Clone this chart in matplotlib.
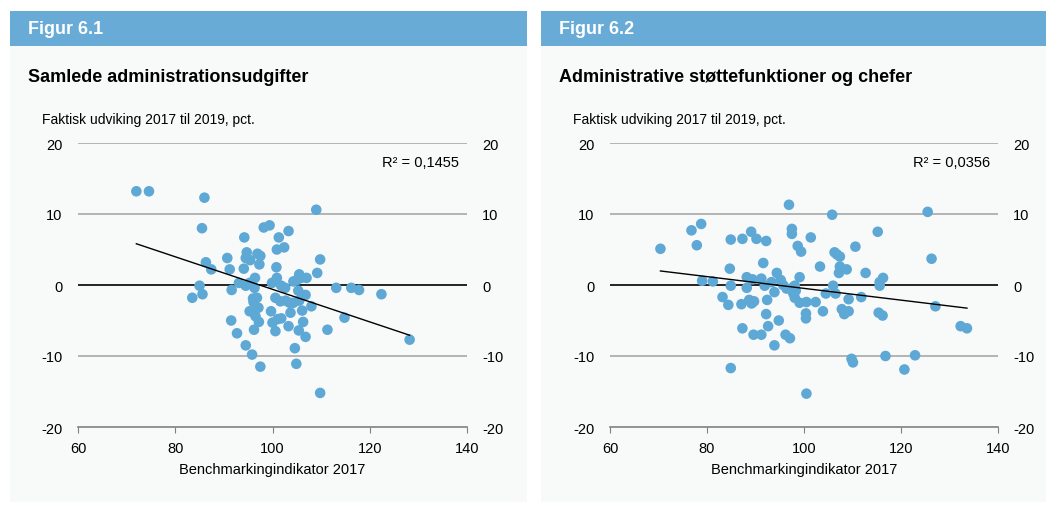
import numpy as np
import matplotlib
matplotlib.use("Agg")
import matplotlib.pyplot as plt
from matplotlib.patches import Rectangle

plt.rcParams['font.family'] = ['Liberation Sans', 'DejaVu Sans']

# Figur 6.1 - Samlede administrationsudgifter
x_total = [72.0, 74.6, 86.0, 85.5, 98.2, 99.4, 94.2, 103.3, 101.3, 100.9, 102.4, 109.0,
           94.7, 94.5, 95.4, 96.9, 97.5, 97.3, 90.7, 94.1, 91.2, 86.3, 87.4, 100.8,
           109.8, 109.2, 96.4, 93.1, 94.5, 95.3, 96.3, 85.0, 85.6, 83.5, 91.6, 99.9,
           100.9, 101.8, 102.6, 104.3, 105.5, 105.9, 107.0, 105.0, 105.3, 106.8, 106.1,
           113.1, 96.0, 96.8, 96.1, 100.6, 101.6, 102.7, 103.5, 104.3, 108.0, 97.1,
           95.3, 99.7, 106.1, 103.7, 96.5, 97.2, 91.5, 100.0, 101.1, 101.8, 106.3,
           103.3, 111.3, 96.2, 92.7, 100.6, 105.4, 106.8, 94.5, 95.8, 104.6, 97.5,
           104.9, 109.8, 114.8, 116.2, 117.8, 122.4, 128.2, 105.5]
y_total = [13.2, 13.2, 12.3, 8.0, 8.1, 8.4, 6.7, 7.6, 6.7, 5.0, 5.3, 10.6,
           4.6, 3.8, 3.5, 4.4, 4.1, 2.9, 3.8, 2.3, 2.2, 3.2, 2.2, 2.5,
           3.6, 1.7, 1.0, 0.3, -0.1, 0.3, -0.4, -0.1, -1.3, -1.8, -0.7, 0.3,
           1.0, -0.1, -0.4, 0.5, 1.5, 1.0, 1.0, 0.7, -0.8, -1.4, -1.5,
           -0.4, -1.9, -1.8, -2.4, -1.8, -2.3, -2.2, -2.5, -2.5, -3.0, -3.2,
           -3.7, -3.7, -3.6, -3.9, -4.4, -5.2, -5.0, -5.3, -4.8, -4.7, -5.2,
           -5.8, -6.3, -6.3, -6.8, -6.5, -6.4, -7.3, -8.5, -9.8, -8.9, -11.5,
           -11.1, -15.2, -4.6, -0.4, -0.7, -1.3, -7.7, -2.2]

# Figur 6.2 - Administrative støttefunktioner og chefer
x_support = [96.9, 76.8, 78.8, 70.4, 77.9, 84.9, 87.3, 89.1, 90.2, 92.2, 97.5, 97.5,
             101.4, 98.7, 99.4, 91.6, 84.7, 103.3, 79.0, 81.2, 88.2, 89.4, 91.2, 94.4,
             95.2, 99.1, 98.1, 84.9, 88.2, 105.8, 125.5, 115.2, 110.6, 126.3, 106.3,
             106.8, 107.4, 107.4, 108.8, 107.2, 112.7, 116.3, 115.6, 106.0, 115.6,
             83.2, 84.4, 87.1, 88.7, 89.2, 89.7, 92.4, 93.9, 92.2, 94.8, 92.6, 87.3,
             89.6, 91.2, 96.2, 97.1, 93.9, 84.9, 100.5, 95.7, 96.4, 97.8, 98.1, 99.1,
             100.5, 102.4, 100.4, 100.4, 104.5, 106.5, 109.2, 111.8, 103.9, 107.8,
             108.3, 109.2, 115.4, 116.2, 127.1, 132.3, 133.6, 109.8, 110.1, 116.8,
             122.9, 120.7, 91.9, 93.3, 97.8, 98.3]
y_support = [11.3, 7.7, 8.6, 5.1, 5.6, 6.4, 6.5, 7.5, 6.5, 6.2, 7.9, 7.2,
             6.7, 5.5, 4.7, 3.1, 2.3, 2.6, 0.6, 0.5, 1.1, 0.8, 0.9, 1.7,
             0.7, 1.1, -0.1, -0.1, -0.4, 9.9, 10.3, 7.5, 5.4, 3.7, 4.6,
             4.3, 4.0, 2.6, 2.2, 1.7, 1.7, 1.0, 0.4, -0.1, -0.1,
             -1.7, -2.8, -2.7, -2.1, -2.6, -2.3, -2.1, -1.0, -4.1, -5.0, -5.8, -6.1,
             -7.0, -7.0, -7.0, -7.5, -8.5, -11.7, -15.3, 0.0, -0.5, -1.2, -1.8, -2.5,
             -2.4, -2.4, -4.0, -4.7, -1.2, -1.2, -2.0, -1.7, -3.7, -3.4,
             -4.1, -3.7, -3.9, -4.3, -3.0, -5.8, -6.1, -10.4, -10.9, -10.0,
             -9.9, -11.9, -0.1, 0.4, -0.3, -0.8]

fig_labels = ['Figur 6.1', 'Figur 6.2']
titles = ['Samlede administrationsudgifter', 'Administrative støttefunktioner og chefer']
r2_labels = ['R² = 0,1455', 'R² = 0,0356']
subtitle = 'Faktisk udviking 2017 til 2019, pct.'
xlabel = 'Benchmarkingindikator 2017'
xticks = [60, 80, 100, 120, 140]
yticks = [-20, -10, 0, 10, 20]

W, H = 1053, 506
dot_col = '#5ea8d6'
head_col = '#67abd6'
bg_col = '#f8f9f9'

fig = plt.figure(figsize=(W / 100, H / 100), dpi=100)
fig.patch.set_facecolor('white')

panels = [(10, 527), (541, 1046)]
axes_px = [(78, 467), (610, 998)]
data = [(x_total, y_total), (x_support, y_support)]

for i in range(2):
    p0, p1 = panels[i]
    # panel background and header bar
    fig.patches.append(Rectangle((p0 / W, 0.005), (p1 - p0) / W, (H - 47) / H - 0.005,
                                 transform=fig.transFigure, facecolor=bg_col, edgecolor='none', zorder=-10))
    fig.patches.append(Rectangle((p0 / W, (H - 47) / H), (p1 - p0) / W, 35 / H,
                                 transform=fig.transFigure, facecolor=head_col, edgecolor='none', zorder=-10))
    fig.text((p0 + 18) / W, (H - 30) / H, fig_labels[i], color='white', fontsize=13,
             fontweight='bold', va='center', ha='left')
    fig.text((p0 + 18) / W, (H - 78) / H, titles[i], color='black', fontsize=13,
             fontweight='bold', va='center', ha='left')
    fig.text((p0 + 32) / W, (H - 120) / H, subtitle, color='black', fontsize=10,
             va='center', ha='left')

    a0, a1 = axes_px[i]
    ax = fig.add_axes([a0 / W, (H - 428) / H, (a1 - a0) / W, (428 - 144) / H])
    ax.set_facecolor('none')
    xs, ys = data[i]
    ax.set_xlim(60, 140)
    ax.set_ylim(-20, 20)
    for yv in [20, 10, -10]:
        ax.axhline(yv, color='#a8a8a8', lw=1.2, zorder=1)
    ax.axhline(0, color='black', lw=1.2, zorder=1)

    ax.scatter(xs, ys, s=58, color=dot_col, edgecolors='none', zorder=3)

    # linear trend line
    k, m = np.polyfit(xs, ys, 1)
    lx = np.array([min(xs), max(xs)])
    ax.plot(lx, k * lx + m, color='black', lw=1.0, zorder=4)

    ax.text(0.979, 0.933, r2_labels[i], transform=ax.transAxes, ha='right', va='center',
            fontsize=10.5)

    for s in ['top', 'left', 'right']:
        ax.spines[s].set_visible(False)
    ax.spines['bottom'].set_color('#808080')
    ax.spines['bottom'].set_linewidth(1.2)
    ax.set_xticks(xticks)
    ax.set_yticks(yticks)
    ax.set_xticklabels([str(t) for t in xticks], fontsize=10.5)
    ax.set_yticklabels([str(t) for t in yticks], fontsize=10.5)
    ax.tick_params(axis='x', length=4, color='#808080', pad=6)
    ax.tick_params(axis='y', length=0, labelleft=True, labelright=True, pad=11)
    ax.set_xlabel(xlabel, fontsize=10.5, labelpad=5)

fig.savefig('out.png', dpi=100)
